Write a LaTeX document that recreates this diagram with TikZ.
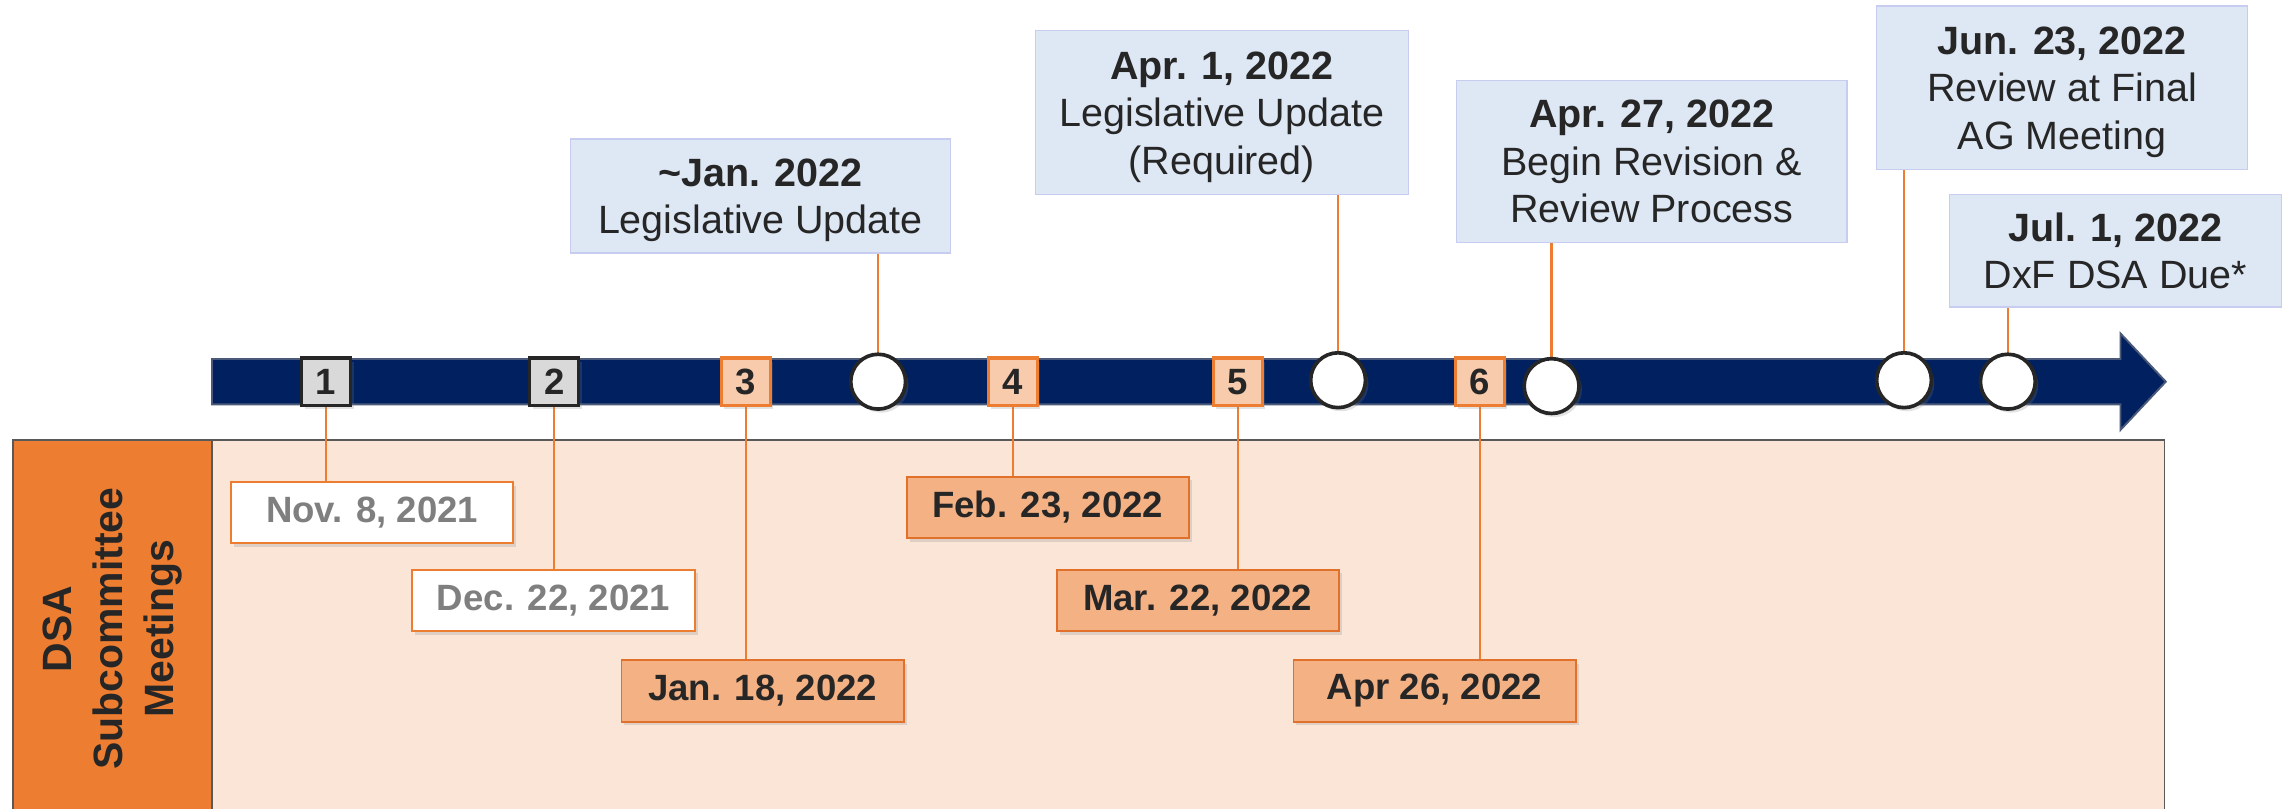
\documentclass[tikz,border=0pt]{standalone}
\usepackage{fontspec}
\setmainfont{Liberation Sans}
\usetikzlibrary{shadows}
\definecolor{navy}{HTML}{002060}
\definecolor{navyedge}{HTML}{4A5A78}
\definecolor{orng}{HTML}{ED7D31}
\definecolor{orngdark}{HTML}{E0702A}
\definecolor{salmon}{HTML}{FBE5D6}
\definecolor{peach}{HTML}{F4B183}
\definecolor{lightpeach}{HTML}{F8CBAD}
\definecolor{skyfill}{HTML}{DEE8F5}
\definecolor{skyedge}{HTML}{C8CCF0}
\definecolor{txt}{HTML}{262626}
\definecolor{greytxt}{HTML}{7F7F7F}
\definecolor{numgrey}{HTML}{D9D9D9}
\definecolor{frame}{HTML}{595959}
\newcommand{\topstrut}{\rule{0pt}{25pt}}
\tikzset{
  softshadow/.style={drop shadow={opacity=0.22, shadow xshift=2pt, shadow yshift=-2.5pt}},
  numbox/.style={rectangle, minimum width=33.5pt, minimum height=32.5pt, inner sep=0pt,
    line width=2.3pt, font=\bfseries\fontsize{25}{25}\selectfont, text=txt, softshadow},
  greynum/.style={numbox, fill=numgrey, draw=txt},
  orangenum/.style={numbox, fill=lightpeach, draw=orng},
  marker/.style={circle, minimum size=37.5pt, inner sep=0pt, fill=white, draw=txt,
    line width=2.5pt, softshadow},
  conn/.style={draw=orng, line width=1.6pt},
  datebox/.style={rectangle, minimum width=193pt, minimum height=42pt, inner sep=0pt,
    line width=1.3pt, font=\bfseries\fontsize{25}{25}\selectfont, softshadow},
  pastdate/.style={datebox, fill=white, draw=orng, text=greytxt},
  nextdate/.style={datebox, fill=peach, draw=orngdark, text=txt},
  infobox/.style={rectangle, inner sep=0pt, fill=skyfill, draw=skyedge, line width=1pt,
    align=center, text=txt, font=\fontsize{27}{32.5}\selectfont},
}
\begin{document}
\begin{tikzpicture}[x=1pt,y=-1pt]
\useasboundingbox (0,0) rectangle (1568,553);
% lane background
\fill[salmon] (145,301) rectangle (1480,553);
\fill[orng] (9,301) rectangle (145,553);
\draw[frame, line width=1pt] (9,553) -- (9,301) -- (1480,301) -- (1480,553);
\draw[frame, line width=0.8pt] (145,301) -- (145,553);
\node[rotate=90, align=center, text=txt, font=\bfseries\fontsize{28}{35}\selectfont]
  (lane) at (77,430) {DSA\\Subcommittee\\Meetings};
% timeline arrow
\fill[navy, draw=navyedge, line width=1.3pt]
  (145,245.5) -- (1450,245.5) -- (1450,228) -- (1481,261) -- (1450,294)
  -- (1450,276.5) -- (145,276.5) -- cycle;
% info boxes (top)
\node[infobox, minimum width=260pt, minimum height=78pt] (t1) at (520,134)
  {\topstrut\textbf{\textasciitilde Jan. 2022}\\Legislative Update};
\node[infobox, minimum width=255pt, minimum height=112pt] (t2) at (835.5,77)
  {\topstrut\textbf{Apr. 1, 2022}\\Legislative Update\\(Required)};
\node[infobox, minimum width=267pt, minimum height=111pt] (t3) at (1129.5,110.5)
  {\textbf{Apr. 27, 2022}\\Begin Revision \&\\Review Process};
\node[infobox, minimum width=254pt, minimum height=112pt] (t4) at (1410,60)
  {\topstrut\textbf{Jun. 23, 2022}\\Review at Final\\AG Meeting};
\node[infobox, minimum width=227pt, minimum height=77pt] (t5) at (1446.5,171.5)
  {\textbf{Jul. 1, 2022}\\DxF DSA Due*};
% markers
\coordinate (m1) at (600.5,261);
\coordinate (m2) at (915,260);
\coordinate (m3) at (1061,264);
\coordinate (m4) at (1302,260);
\coordinate (m5) at (1373,261);
\draw[conn] (t1.south -| m1) -- (m1);
\draw[conn] (t2.south -| m2) -- (m2);
\draw[conn] (t3.south -| m3) -- (m3);
\draw[conn] (t4.south -| m4) -- (m4);
\draw[conn] (t5.south -| m5) -- (m5);
\node[marker] (c1) at (m1) {};
\node[marker] (c2) at (m2) {};
\node[marker] (c3) at (m3) {};
\node[marker] (c4) at (m4) {};
\node[marker] (c5) at (m5) {};
% meeting date boxes (bottom)
\node[pastdate] (d1) at (254.5,350.5) {Nov. 8, 2021};
\node[pastdate] (d2) at (378.5,410.5) {Dec. 22, 2021};
\node[nextdate] (d3) at (521.5,472.5) {Jan. 18, 2022};
\node[nextdate] (d4) at (716.5,347) {Feb. 23, 2022};
\node[nextdate] (d5) at (819,410.5) {Mar. 22, 2022};
\node[nextdate] (d6) at (981,472.5) {Apr 26, 2022};
% numbered meetings
\coordinate (p1) at (223,261);
\coordinate (p2) at (379,261);
\coordinate (p3) at (510,261);
\coordinate (p4) at (692.5,261);
\coordinate (p5) at (846.5,261);
\coordinate (p6) at (1012,261);
\draw[conn] (p1) -- (p1 |- d1.north);
\draw[conn] (p2) -- (p2 |- d2.north);
\draw[conn] (p3) -- (p3 |- d3.north);
\draw[conn] (p4) -- (p4 |- d4.north);
\draw[conn] (p5) -- (p5 |- d5.north);
\draw[conn] (p6) -- (p6 |- d6.north);
\node[greynum] (n1) at (p1) {1};
\node[greynum] (n2) at (p2) {2};
\node[orangenum] (n3) at (p3) {3};
\node[orangenum] (n4) at (p4) {4};
\node[orangenum] (n5) at (p5) {5};
\node[orangenum] (n6) at (p6) {6};
\end{tikzpicture}
\end{document}
